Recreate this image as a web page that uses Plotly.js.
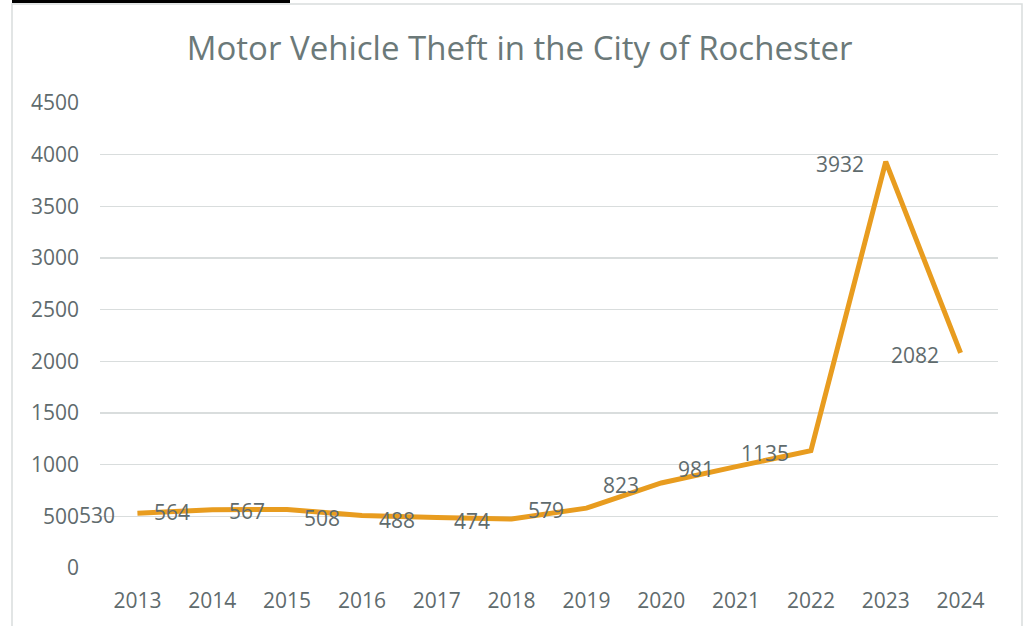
<!DOCTYPE html>
<html>
<head>
<meta charset="utf-8">
<script src="https://cdn.plot.ly/plotly-3.0.1.min.js"></script>
<style>html,body{margin:0;padding:0;background:#fff;}#chart{width:1031px;height:626px;}</style>
</head>
<body>
<div id="chart"></div>
<script>
const years = ['2013','2014','2015','2016','2017','2018','2019','2020','2021','2022','2023','2024'];
const thefts = [530, 564, 567, 508, 488, 474, 579, 823, 981, 1135, 3932, 2082];
const yTicks = [0, 500, 1000, 1500, 2000, 2500, 3000, 3500, 4000, 4500];

const textColor = '#5f6b6d';
const fontFam = '"Open Sans", "Noto Sans", sans-serif';

const trace = {
  x: years,
  y: thefts,
  type: 'scatter',
  mode: 'lines',
  line: {color: '#E89C1F', width: 5},
  hoverinfo: 'x+y'
};

const annotations = years.map((yr, i) => ({
  x: i, y: thefts[i], xref: 'x', yref: 'y',
  text: String(thefts[i]),
  showarrow: false,
  xanchor: 'right', yanchor: 'middle',
  xshift: -20, yshift: -2,
  font: {family: fontFam, size: 21, color: textColor}
}));

const layout = {
  width: 1031, height: 626,
  margin: {l: 100, r: 33, t: 103, b: 58},
  paper_bgcolor: '#ffffff',
  plot_bgcolor: '#ffffff',
  showlegend: false,
  title: {
    text: 'Motor Vehicle Theft in the City of Rochester',
    x: 0.504, xanchor: 'center',
    y: 1 - 48/626, yanchor: 'middle',
    font: {family: fontFam, size: 33, color: '#6b7979'}
  },
  xaxis: {
    type: 'category',
    categoryorder: 'array', categoryarray: years,
    range: [-0.5, years.length - 0.5],
    autorange: false,
    showgrid: false, zeroline: false, showline: false,
    ticks: '',
    tickfont: {family: fontFam, size: 21, color: textColor},
    ticklabelstandoff: 18,
    fixedrange: true
  },
  yaxis: {
    range: [0, 4500],
    autorange: false,
    tickvals: yTicks,
    ticktext: yTicks.map(String),
    showgrid: true, gridcolor: '#d9dddd', gridwidth: 1.5,
    zeroline: false, showline: false,
    ticks: '',
    tickfont: {family: fontFam, size: 21, color: textColor},
    ticklabelstandoff: 20,
    fixedrange: true
  },
  annotations: annotations,
  shapes: [
    {type: 'rect', xref: 'paper', yref: 'paper',
     x0: (12-100)/898, x1: (1022-100)/898, y0: (568-640)/465, y1: (568-4)/465,
     line: {color: '#d9dddd', width: 1.5}, fillcolor: 'rgba(0,0,0,0)', layer: 'below'},
    {type: 'rect', xref: 'paper', yref: 'paper',
     x0: (12-100)/898, x1: (290-100)/898, y0: (568-3)/465, y1: (568+2)/465,
     line: {width: 0}, fillcolor: '#000000'}
  ]
};

Plotly.newPlot('chart', [trace], layout, {displayModeBar: false, staticPlot: true});
</script>
</body>
</html>
